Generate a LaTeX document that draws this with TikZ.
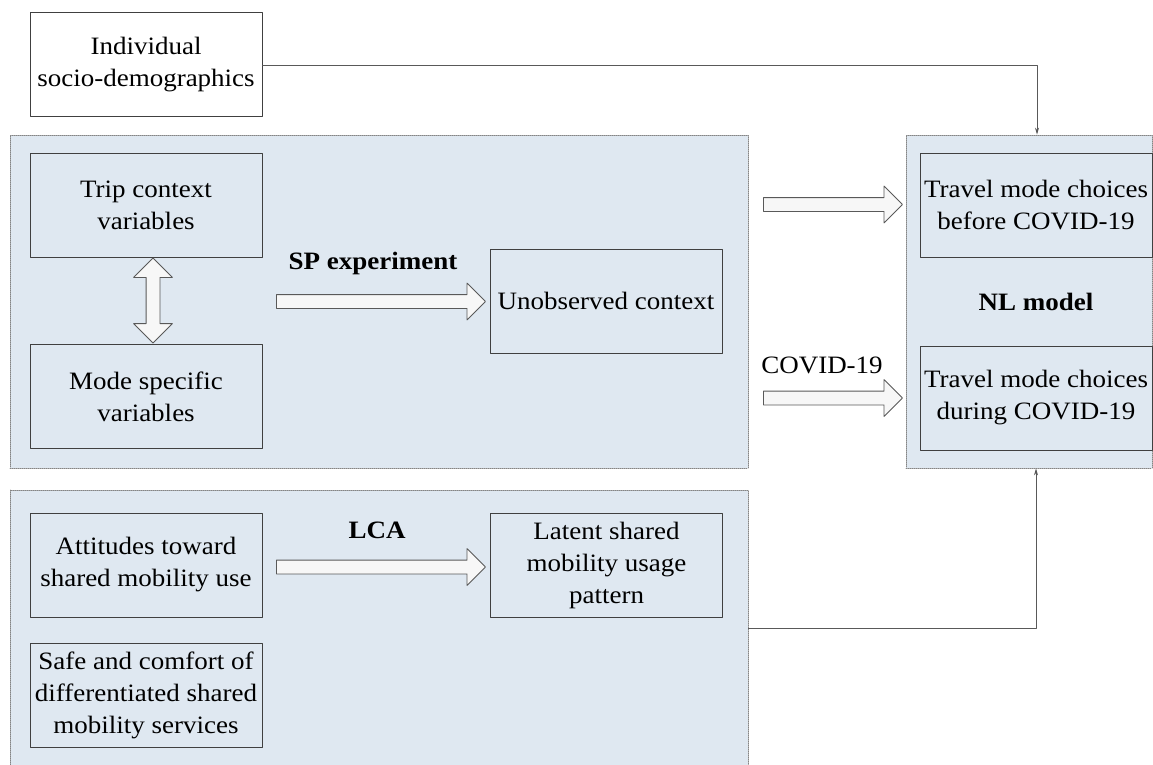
\documentclass[tikz,border=0pt]{standalone}
\usepackage{fontspec}
\setmainfont[FakeStretch=1.08]{Liberation Serif}
\usetikzlibrary{shapes.arrows}
\usetikzlibrary{arrows.meta}
\definecolor{panelblue}{HTML}{DFE8F1}
\definecolor{boxline}{HTML}{404040}
\definecolor{dotline}{HTML}{858585}
\definecolor{linkgray}{HTML}{595959}

\tikzset{
  varbox/.style={draw=boxline, line width=1pt, minimum width=232pt,
    minimum height=104pt, align=center, inner sep=2pt},
  panel/.style={fill=panelblue, draw=dotline, line width=0.8pt,
    dash pattern=on 1pt off 1pt, inner sep=0pt},
  blockarrow/.style={single arrow, draw=linkgray, fill=gray!6,
    line width=0.8pt, inner xsep=0pt, inner ysep=6.5pt,
    single arrow head extend=11.5pt, single arrow head indent=0pt},
  botharrow/.style={double arrow, draw=linkgray, fill=gray!6,
    line width=0.8pt, inner xsep=0pt, inner ysep=6.5pt,
    double arrow head extend=12.5pt, double arrow head indent=0pt},
  link/.style={draw=linkgray, line width=0.8pt, ->},
}

\begin{document}
\begin{tikzpicture}[x=1pt, y=-1pt, line cap=round, line join=round,
  >={Stealth[length=7pt,width=4pt]}, font=\fontsize{25}{32}\selectfont]
  \useasboundingbox (0,0) rectangle (1153,765);
  % grey panels
  \node[panel, minimum width=738pt, minimum height=333pt] (sp) at (379,301.5) {};
  \node[panel, minimum width=246pt, minimum height=333pt] (nl) at (1029,301.5) {};
  \node[panel, minimum width=738pt, minimum height=276pt] (lca) at (379,628) {};
  % variable boxes
  \node[varbox, fill=white] (indiv) at (146,65) {Individual\\socio-demographics};
  \node[varbox] (trip) at (146,205) {Trip context\\variables};
  \node[varbox] (modespec) at (146,396.5) {Mode specific\\variables};
  \node[varbox] (unobs) at (606,301) {Unobserved context};
  \node[varbox] (before) at (1036,205) {Travel mode choices\\before COVID-19};
  \node[varbox] (during) at (1036,398) {Travel mode choices\\during COVID-19};
  \node[varbox] (attit) at (146,565) {Attitudes toward\\shared mobility use};
  \node[varbox] (safe) at (146,695) {Safe and comfort of\\differentiated shared\\mobility services};
  \node[varbox] (latent) at (606.5,565) {Latent shared\\mobility usage\\pattern};
  % block arrows
  \node[botharrow, rotate=90, minimum height=85pt] (tripArrow) at (153,300.5) {};
  \node[blockarrow, minimum height=209pt] (spArrow) at (377.5,301.5) {};
  \node[blockarrow, minimum height=139pt] (beforeArrow) at (829.5,204.5) {};
  \node[blockarrow, minimum height=139pt] (duringArrow) at (829.5,398) {};
  \node[blockarrow, minimum height=209pt] (lcaArrow) at (377.5,567) {};
  % labels
  \node (spLabel) at (373,263) {\textbf{SP experiment}};
  \node (lcaLabel) at (377,530) {\textbf{LCA}};
  \node (nlLabel) at (1036,302) {\textbf{NL model}};
  \node (covidLabel) at (822,365) {COVID-19};
  % connectors
  \draw[link] (indiv.east) -| ([xshift=8pt]nl.north);
  \draw[link] (lca.east) -| ([xshift=7pt]nl.south);
\end{tikzpicture}
\end{document}
